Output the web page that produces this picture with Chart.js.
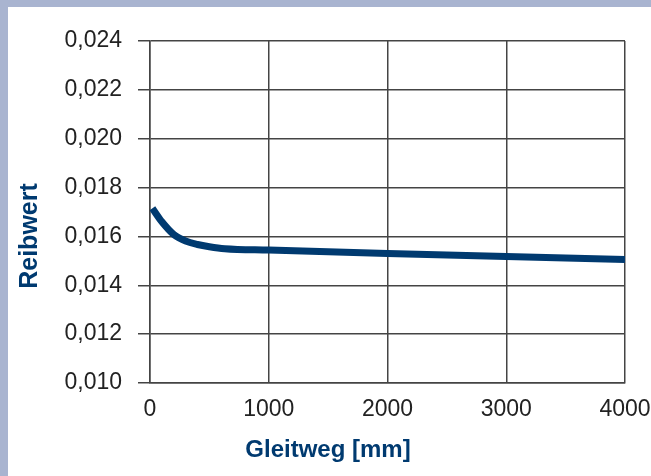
<!DOCTYPE html>
<html>
<head>
<meta charset="utf-8">
<script src="https://cdn.jsdelivr.net/npm/chart.js@4"></script>
<style>
  html, body { margin: 0; padding: 0; }
  body { width: 651px; height: 476px; background: #a9b4d0; position: relative; overflow: hidden; }
  #panel { position: absolute; left: 8px; top: 7px; right: 0; bottom: 0; background: #fff; }
  #wrap { position: absolute; left: 0; top: 0; width: 651px; height: 476px; }
</style>
</head>
<body>
<div id="panel"></div>
<div id="wrap"><canvas id="reibChart" width="651" height="476"></canvas></div>
<script>
  const gleitweg = [20, 100, 200, 300, 400, 500, 630, 1000, 2000, 3000, 4000];
  const reibwert = [0.01715, 0.0166, 0.01608, 0.01581, 0.01567, 0.01558, 0.0155, 0.01544, 0.0153, 0.01518, 0.01506];
  const xTicks = [0, 1000, 2000, 3000, 4000];
  const yTicks = [0.010, 0.012, 0.014, 0.016, 0.018, 0.020, 0.022, 0.024];

  const navy = "#003a70";
  const gridColor = "#444";
  const fontFam = "'Liberation Sans', Arial, sans-serif";

  // Achsentitel selbst zeichnen (nicht zentriert auf den Plotbereich)
  const axisTitles = {
    id: "axisTitles",
    afterDraw(chart) {
      const c = chart.ctx;
      c.save();
      c.fillStyle = navy;
      c.textAlign = "center";
      c.textBaseline = "middle";
      c.font = "bold 24px " + fontFam;
      c.fillText("Gleitweg [mm]", 328, 450);
      c.translate(30, 236);
      c.rotate(-Math.PI / 2);
      c.font = "bold 25px " + fontFam;
      c.fillText("Reibwert", 0, 0);
      c.restore();
    }
  };

  const ctx = document.getElementById("reibChart").getContext("2d");
  const reibChart = new Chart(ctx, {
    type: "line",
    data: {
      datasets: [
        {
          data: gleitweg.map((x, i) => ({ x: x, y: reibwert[i] })),
          borderColor: navy,
          borderWidth: 7,
          pointRadius: 0,
          fill: false,
          cubicInterpolationMode: "monotone",
        },
      ],
    },
    options: {
      responsive: false,
      animation: false,
      layout: { padding: { left: 0, top: 41, right: 26, bottom: 0 } },
      plugins: { legend: { display: false }, tooltip: { enabled: false } },
      scales: {
        x: {
          type: "linear",
          min: 0,
          max: 4000,
          afterBuildTicks: (s) => { s.ticks = xTicks.map((v) => ({ value: v })); },
          afterFit: (s) => {
            s.height = 476 - 383;
            s.paddingLeft = 0;
            s.paddingRight = 0;
          },
          ticks: {
            color: "#222",
            padding: 13,
            maxRotation: 0,
            font: { family: fontFam, size: 23 },
            callback: (v) => String(v),
          },
          grid: { color: gridColor, lineWidth: 1.5, drawTicks: false },
          border: { color: gridColor, width: 1.5 },
        },
        y: {
          min: 0.010,
          max: 0.024,
          afterBuildTicks: (s) => { s.ticks = yTicks.map((v) => ({ value: v })); },
          afterFit: (s) => {
            s.width = 150;
            s.paddingTop = 0;
            s.paddingBottom = 0;
          },
          ticks: {
            color: "#222",
            padding: 16,
            font: { family: fontFam, size: 23 },
            callback: (v) => v.toFixed(3).replace(".", ","),
          },
          grid: { color: gridColor, lineWidth: 1.5, tickLength: 12 },
          border: { color: gridColor, width: 1.5 },
        },
      },
    },
    plugins: [axisTitles],
  });
</script>
</body>
</html>
